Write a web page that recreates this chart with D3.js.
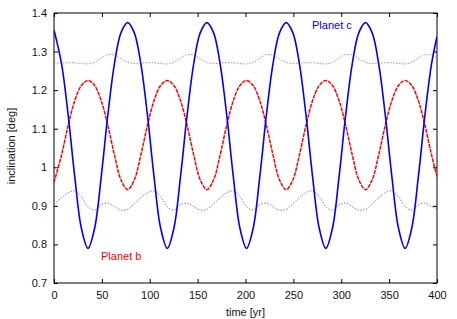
<!DOCTYPE html>
<html>
<head>
<meta charset="utf-8">
<script src="https://cdn.jsdelivr.net/npm/d3@7"></script>
<style>
  body { margin: 0; background: #fff; }
  text { font-family: "Liberation Sans", Arial, sans-serif; fill: #111; }
</style>
</head>
<body>
<div id="chart"></div>
<script>
// sample times [yr]
var time = [0, 7.9, 14.8, 21.7, 28.6, 35.5, 42.4, 49.3, 56.2, 63.1, 70.0, 76.9, 83.8, 90.7, 97.6,
  104.5, 111.4, 118.3, 125.2, 132.1, 139.0, 145.9, 152.8, 159.7, 166.6, 173.5, 180.4, 187.3, 194.2,
  201.1, 208.0, 214.9, 221.8, 228.7, 235.6, 242.5, 249.4, 256.3, 263.2, 270.1, 277.0, 283.9, 290.8,
  297.7, 304.6, 311.5, 318.4, 325.3, 332.2, 339.1, 346.0, 352.9, 359.8, 366.7, 373.6, 380.5, 387.4,
  394.3, 400];

// planet c, solid blue
var planetC = [1.356, 1.268, 1.135, 0.975, 0.842,
  0.790, 0.842, 0.975, 1.135, 1.268, 1.349, 1.375, 1.349, 1.268, 1.135, 0.975, 0.842,
  0.790, 0.842, 0.975, 1.135, 1.268, 1.349, 1.375, 1.349, 1.268, 1.135, 0.975, 0.842,
  0.790, 0.842, 0.975, 1.135, 1.268, 1.349, 1.375, 1.349, 1.268, 1.135, 0.975, 0.842,
  0.790, 0.842, 0.975, 1.135, 1.268, 1.349, 1.375, 1.349, 1.268, 1.135, 0.975, 0.842,
  0.790, 0.842, 0.975, 1.135, 1.268, 1.339];

// planet b, dashed red
var planetB = [0.961, 1.032, 1.109, 1.173, 1.212,
  1.225, 1.212, 1.173, 1.109, 1.032, 0.967, 0.942, 0.967, 1.032, 1.109, 1.173, 1.212,
  1.225, 1.212, 1.173, 1.109, 1.032, 0.967, 0.942, 0.967, 1.032, 1.109, 1.173, 1.212,
  1.225, 1.212, 1.173, 1.109, 1.032, 0.967, 0.942, 0.967, 1.032, 1.109, 1.173, 1.212,
  1.225, 1.212, 1.173, 1.109, 1.032, 0.967, 0.942, 0.967, 1.032, 1.109, 1.173, 1.212,
  1.225, 1.212, 1.173, 1.109, 1.032, 0.976];

// dotted blue
var planetCdot = [0.904, 0.921, 0.934, 0.939, 0.924,
  0.898, 0.889, 0.903, 0.907, 0.898, 0.889, 0.891, 0.905, 0.921, 0.934, 0.939, 0.924,
  0.898, 0.889, 0.903, 0.907, 0.898, 0.889, 0.891, 0.905, 0.921, 0.934, 0.939, 0.924,
  0.898, 0.889, 0.903, 0.907, 0.898, 0.889, 0.891, 0.905, 0.921, 0.934, 0.939, 0.924,
  0.898, 0.889, 0.903, 0.907, 0.898, 0.889, 0.891, 0.905, 0.921, 0.934, 0.939, 0.924,
  0.898, 0.889, 0.903, 0.907, 0.898, 0.893];

// dotted red
var planetBdot = [1.270, 1.270, 1.271, 1.271, 1.269,
  1.268, 1.272, 1.283, 1.292, 1.291, 1.281, 1.272, 1.269, 1.270, 1.271, 1.271, 1.269,
  1.268, 1.272, 1.283, 1.292, 1.291, 1.281, 1.272, 1.269, 1.270, 1.271, 1.271, 1.269,
  1.268, 1.272, 1.283, 1.292, 1.291, 1.281, 1.272, 1.269, 1.270, 1.271, 1.271, 1.269,
  1.268, 1.272, 1.283, 1.292, 1.291, 1.281, 1.272, 1.269, 1.270, 1.271, 1.271, 1.269,
  1.268, 1.272, 1.283, 1.292, 1.291, 1.283];

var xTicks = [0, 50, 100, 150, 200, 250, 300, 350, 400];
var yTicks = [0.7, 0.8, 0.9, 1, 1.1, 1.2, 1.3, 1.4];

var width = 457, height = 319;
var margin = { top: 13, right: 20, bottom: 36, left: 54 };

var svg = d3.select('#chart')
  .append('svg')
  .attr('width', width)
  .attr('height', height);

var x = d3.scaleLinear().domain([0, 400]).range([margin.left, width - margin.right]);
var y = d3.scaleLinear().domain([0.7, 1.4]).range([height - margin.bottom, margin.top]);

// ticks on all four sides, pointing inward
var tickLen = 4;
var fmt = function(d) { return String(d); };
svg.append('g')
  .attr('transform', 'translate(0,' + y(0.7) + ')')
  .call(d3.axisBottom(x).tickValues(xTicks).tickSize(-tickLen).tickPadding(8).tickFormat(fmt));
svg.append('g')
  .attr('transform', 'translate(0,' + y(1.4) + ')')
  .call(d3.axisTop(x).tickValues(xTicks).tickSize(-tickLen).tickFormat(''));
svg.append('g')
  .attr('transform', 'translate(' + x(0) + ',0)')
  .call(d3.axisLeft(y).tickValues(yTicks).tickSize(-tickLen).tickPadding(7).tickFormat(fmt));
svg.append('g')
  .attr('transform', 'translate(' + x(400) + ',0)')
  .call(d3.axisRight(y).tickValues(yTicks).tickSize(-tickLen).tickFormat(''));

svg.selectAll('.domain').remove();
svg.selectAll('.tick line').attr('stroke', '#000');
svg.selectAll('.tick text')
  .style('font-family', '"Liberation Sans", Arial, sans-serif')
  .style('font-size', '11px')
  .attr('fill', '#111');

// frame
svg.append('rect')
  .attr('x', x(0)).attr('y', y(1.4))
  .attr('width', x(400) - x(0)).attr('height', y(0.7) - y(1.4))
  .attr('fill', 'none').attr('stroke', '#000').attr('stroke-width', 1);

svg.append('clipPath').attr('id', 'clip')
  .append('rect')
  .attr('x', x(0)).attr('y', y(1.4))
  .attr('width', x(400) - x(0)).attr('height', y(0.7) - y(1.4));

function lineFor(values) {
  return d3.line()
    .x(function(d, i) { return x(time[i]); })
    .y(function(d) { return y(d); })
    .curve(d3.curveCatmullRom.alpha(0.5))(values);
}

var plot = svg.append('g').attr('clip-path', 'url(#clip)');

plot.append('path').attr('d', lineFor(planetBdot))
  .attr('fill', 'none').attr('stroke', '#ff5555').attr('stroke-width', 1)
  .attr('stroke-dasharray', '1.5,1.5').attr('opacity', 0.8);
plot.append('path').attr('d', lineFor(planetCdot))
  .attr('fill', 'none').attr('stroke', '#5555ff').attr('stroke-width', 1)
  .attr('stroke-dasharray', '1.5,1.5').attr('opacity', 0.8);
plot.append('path').attr('d', lineFor(planetB))
  .attr('fill', 'none').attr('stroke', '#ff0000').attr('stroke-width', 1.5)
  .attr('stroke-dasharray', '4,1');
plot.append('path').attr('d', lineFor(planetC))
  .attr('fill', 'none').attr('stroke', '#0000ff').attr('stroke-width', 1.6);

// labels
svg.append('text')
  .attr('x', (x(0) + x(400)) / 2).attr('y', 316)
  .attr('text-anchor', 'middle').style('font-size', '11px')
  .text('time [yr]');
svg.append('text')
  .attr('transform', 'translate(15,' + ((y(0.7) + y(1.4)) / 2 - 2) + ') rotate(-90)')
  .attr('text-anchor', 'middle').style('font-size', '11px')
  .text('inclination [deg]');

svg.append('text')
  .attr('x', 312).attr('y', 29)
  .style('font-size', '11px').style('fill', '#0000ff')
  .text('Planet c');
svg.append('text')
  .attr('x', 101).attr('y', 260)
  .style('font-size', '11px').style('fill', '#ff0000')
  .text('Planet b');
</script>
</body>
</html>
